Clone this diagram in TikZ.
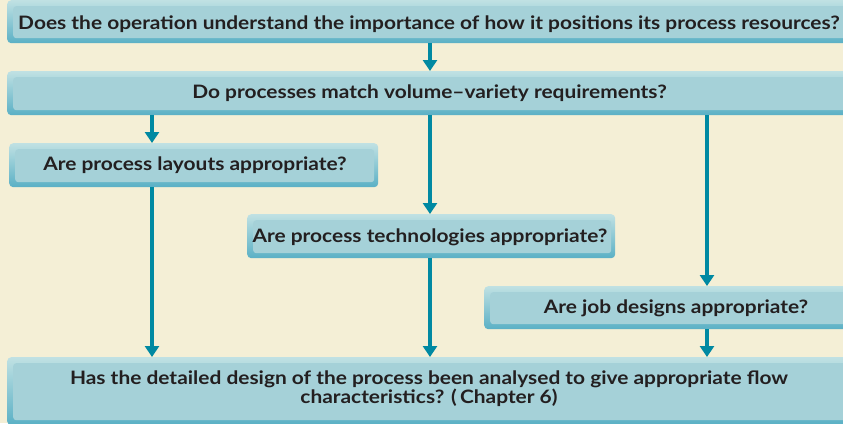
\documentclass[tikz,border=0pt]{standalone}
\usepackage{fontspec}
\setmainfont{Lato}[BoldFont={Lato Bold}, FakeStretch=1.13]
\usetikzlibrary{arrows.meta}
\definecolor{bgc}{RGB}{244,239,214}
\definecolor{boxtop}{RGB}{192,225,227}
\definecolor{boxbot}{RGB}{90,176,197}
\definecolor{boxin}{RGB}{165,209,216}
\definecolor{arrc}{RGB}{0,137,162}
\definecolor{txtc}{RGB}{35,31,32}
\tikzset{
  qbox/.style={rounded corners=4pt, inner sep=0pt, anchor=north west,
    top color=boxtop, bottom color=boxbot, draw=none,
    path picture={\fill[boxin, rounded corners=3pt]
      ([xshift=6pt,yshift=-6pt]path picture bounding box.north west) rectangle
      ([xshift=-4pt,yshift=5pt]path picture bounding box.south east);}},
  qtext/.style={font=\fontsize{18.5}{19}\selectfont\bfseries, text=txtc, inner sep=0pt, align=center},
  arr/.style={arrc, line width=4pt, -{Triangle[width=14pt,length=11pt]}, shorten >=0pt}
}
\begin{document}
\begin{tikzpicture}[x=1pt,y=-1pt]
\useasboundingbox (0,0) rectangle (843,423);
\clip (0,0) rectangle (843,423);
\fill[bgc] (0,0) rectangle (843,423);
% boxes
\node[qbox, minimum width=846pt, minimum height=43pt] (b1) at (7,0) {};
\node[qbox, minimum width=846pt, minimum height=44pt] (b2) at (7,71) {};
\node[qbox, minimum width=369pt, minimum height=44pt] (b3) at (9,143) {};
\node[qbox, minimum width=368pt, minimum height=44pt] (b4) at (247,214) {};
\node[qbox, minimum width=369pt, minimum height=43pt] (b5) at (484,286) {};
\node[qbox, minimum width=846pt, minimum height=68pt] (b6) at (7,357) {};
% texts
\node[qtext] (t1) at (429,24) {Does the operation understand the importance of how it positions its process resources?};
\node[qtext] (t2) at (429.5,93) {Do processes match volume--variety requirements?};
\node[qtext] (t3) at (195,165) {Are process layouts appropriate?};
\node[qtext] (t4) at (430,237) {Are process technologies appropriate?};
\node[qtext] (t5) at (676,308) {Are job designs appropriate?};
\node[qtext] (t6) at (429,389) {Has the detailed design of the process been analysed to give appropriate flow\\characteristics? (\,Chapter 6)};
% arrow columns
\coordinate (xa) at (152,0);
\coordinate (xb) at (430,0);
\coordinate (xc) at (707,0);
\draw[arr] (xb |- b1.south) -- (xb |- b2.north);
\draw[arr] (xa |- b2.south) -- (xa |- b3.north);
\draw[arr] (xb |- b2.south) -- (xb |- b4.north);
\draw[arr] (xc |- b2.south) -- (xc |- b5.north);
\draw[arr] (xa |- b3.south) -- (xa |- b6.north);
\draw[arr] (xb |- b4.south) -- (xb |- b6.north);
\draw[arr] (xc |- b5.south) -- (xc |- b6.north);
\end{tikzpicture}
\end{document}
